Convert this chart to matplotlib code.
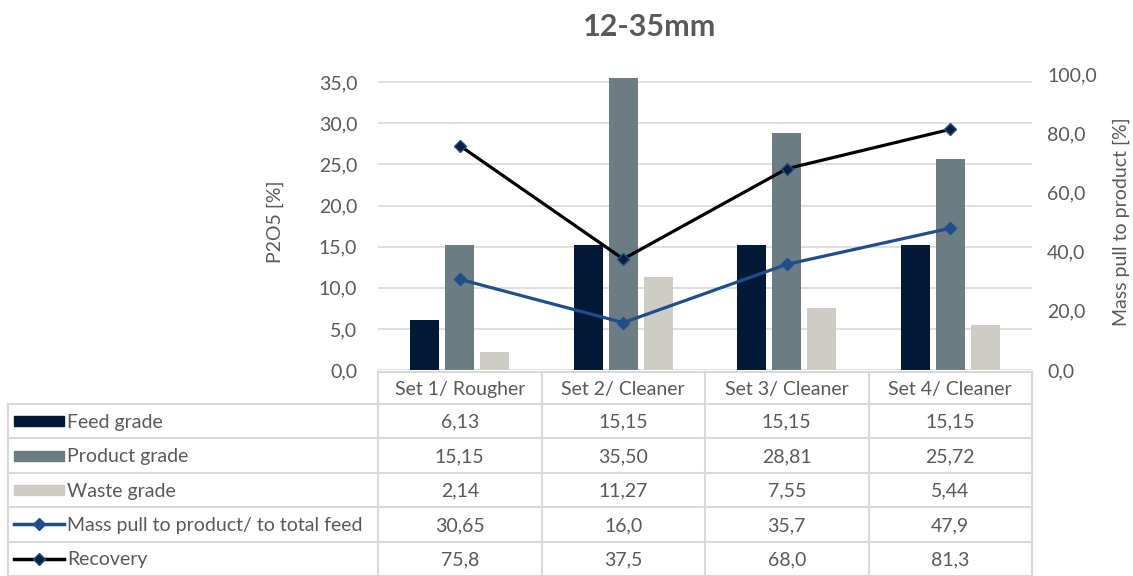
import numpy as np
import matplotlib
matplotlib.use('Agg')
import matplotlib.pyplot as plt
from matplotlib.patches import Rectangle
from matplotlib.lines import Line2D
from matplotlib.ticker import FuncFormatter

plt.rcParams['font.family'] = ['Lato', 'DejaVu Sans']

categories = ['Set 1/ Rougher', 'Set 2/ Cleaner', 'Set 3/ Cleaner', 'Set 4/ Cleaner']
feed_grade = [6.13, 15.15, 15.15, 15.15]
product_grade = [15.15, 35.50, 28.81, 25.72]
waste_grade = [2.14, 11.27, 7.55, 5.44]
mass_pull = [30.65, 16.0, 35.7, 47.9]
recovery = [75.8, 37.5, 68.0, 81.3]

bar_names = ['Feed grade', 'Product grade', 'Waste grade']
line_names = ['Mass pull to product/ to total feed', 'Recovery']

c_feed = '#021a38'
c_prod = '#6b7c82'
c_waste = '#cdcdc6'
c_mass = '#1f4e8c'
c_rec = '#000000'
c_text = '#595959'
c_grid = '#d9d9d9'
fs = 14

W, H = 1133, 576
fig = plt.figure(figsize=(W / 100, H / 100), dpi=100)

# plot area in pixel coords
px0, px1, py0, py1 = 378, 1032, 74, 370
ax = fig.add_axes([px0 / W, 1 - py1 / H, (px1 - px0) / W, (py1 - py0) / H])
ax2 = ax.twinx()

x = np.arange(len(categories))
bw = 0.175
off = 0.214
ax.bar(x - off, feed_grade, bw, color=c_feed, zorder=3)
ax.bar(x, product_grade, bw, color=c_prod, zorder=3)
ax.bar(x + off, waste_grade, bw, color=c_waste, zorder=3)

ax2.plot(x, mass_pull, color=c_mass, lw=2.3, marker='D', ms=6,
         mfc=c_mass, mec=c_mass, zorder=4)
ax2.plot(x, recovery, color=c_rec, lw=2.3, marker='D', ms=6,
         mfc='#0b1f3a', mec=c_mass, zorder=4)

ax.set_xlim(-0.5, len(categories) - 0.5)
ax.set_ylim(0, 36)
ax2.set_ylim(0, 100)
ax.set_yticks(np.arange(0, 36, 5))
ax2.set_yticks(np.arange(0, 101, 20))
ax.set_xticks([])
fmt = FuncFormatter(lambda v, p: ('%.1f' % v).replace('.', ','))
ax.yaxis.set_major_formatter(fmt)
ax2.yaxis.set_major_formatter(fmt)
ax.tick_params(axis='y', length=0, pad=15, labelsize=fs, labelcolor=c_text)
ax2.tick_params(axis='y', length=0, pad=11, labelsize=fs, labelcolor=c_text)
ax.yaxis.grid(True, color=c_grid, lw=1.2, zorder=0)
ax.set_axisbelow(True)
for a in (ax, ax2):
    for s in a.spines.values():
        s.set_visible(False)
ax.set_ylabel('P2O5 [%]', fontsize=fs, color=c_text, labelpad=25)
ax2.set_ylabel('Mass pull to product [%]', fontsize=fs, color=c_text,
               rotation=90, labelpad=11)

fig.text(650 / W, 1 - 27 / H, '12-35mm', ha='center', va='center',
         fontsize=22, fontweight='bold', color=c_text)

# data table drawn below the plot area, in pixel coords
tax = fig.add_axes([0, 0, 1, 1])
tax.set_xlim(0, W)
tax.set_ylim(H, 0)
tax.axis('off')

col_w = (px1 - px0) / len(categories)
col_edges = [px0 + i * col_w for i in range(len(categories) + 1)]
head_top, head_bot = 372, 404
row_h = 34.4
lab_left = 8
n_rows = 5
row_edges = [head_bot + i * row_h for i in range(n_rows + 1)]
lc = '#d9d9d9'
lw = 1.5

# header
tax.plot([px0, px1], [head_top, head_top], color=lc, lw=lw)
for xe in col_edges:
    tax.plot([xe, xe], [head_top, row_edges[-1]], color=lc, lw=lw)
tax.plot([lab_left, lab_left], [head_bot, row_edges[-1]], color=lc, lw=lw)
for ye in row_edges:
    tax.plot([lab_left, px1], [ye, ye], color=lc, lw=lw)
for i, c in enumerate(categories):
    tax.text((col_edges[i] + col_edges[i + 1]) / 2, (head_top + head_bot) / 2 + 1,
             c, ha='center', va='center', fontsize=fs, color=c_text)

rows = [
    (bar_names[0], c_feed, 'bar', ['%.2f' % v for v in feed_grade]),
    (bar_names[1], c_prod, 'bar', ['%.2f' % v for v in product_grade]),
    (bar_names[2], c_waste, 'bar', ['%.2f' % v for v in waste_grade]),
    (line_names[0], c_mass, 'line', [str(v) for v in mass_pull]),
    (line_names[1], c_rec, 'line', [str(v) for v in recovery]),
]
for r, (name, col, kind, vals) in enumerate(rows):
    yc = (row_edges[r] + row_edges[r + 1]) / 2
    if kind == 'bar':
        tax.add_patch(Rectangle((14, yc - 5), 50, 10, color=col))
    else:
        mfc = c_mass if r == 3 else '#0b1f3a'
        tax.add_line(Line2D([14, 64], [yc, yc], color=col, lw=2.5))
        tax.add_line(Line2D([39], [yc], marker='D', ms=6, mfc=mfc, mec=c_mass, lw=0))
    tax.text(67, yc + 1, name, ha='left', va='center', fontsize=fs, color=c_text)
    for i, v in enumerate(vals):
        tax.text((col_edges[i] + col_edges[i + 1]) / 2, yc + 1, v.replace('.', ','),
                 ha='center', va='center', fontsize=fs, color=c_text)

fig.savefig('out.png', dpi=100)
